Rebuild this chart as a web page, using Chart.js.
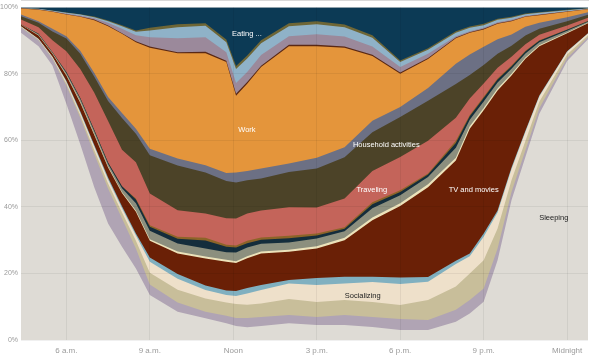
<!DOCTYPE html>
<html><head><meta charset="utf-8">
<script src="https://cdn.jsdelivr.net/npm/chart.js@4"></script>
<style>html,body{margin:0;padding:0;background:#fff}</style>
</head><body>
<canvas id="c" width="589" height="356"></canvas>
<script>
// time of day in hours (24.75 = 12:45 a.m. next day)
const times = [4.37,5,5.5,6,6.5,7,7.5,8,8.5,9,10,11,11.75,12.1,12.5,13,14,15,16,17,18,19,20,20.5,21,21.5,22,22.5,23,24,24.75];

// share of people (%) doing each activity, bottom to top of the stack
const sleeping    = [92.3,88.3,82.5,71.0,58.8,46.0,35.0,28.0,21.5,13.5,8.5,6.5,5.0,4.2,3.8,4.2,5.0,4.5,4.5,3.9,3.0,3.0,5.5,8.0,11.5,24.0,42.0,55.0,68.0,83.8,90.4];
const personalCare= [1.6,1.8,2.0,5.5,8.0,10.0,10.5,8.5,6.0,3.2,2.8,2.0,2.3,2.4,2.8,2.7,2.5,2.4,3.0,3.0,3.3,3.0,3.6,4.0,4.0,3.5,2.5,2.0,1.6,0.9,0.6];
const relaxing    = [0.2,0.2,0.3,0.6,0.8,1.2,1.5,1.8,2.3,3.5,3.8,4.0,4.0,4.2,4.0,4.1,4.8,4.5,4.5,4.5,4.2,6.0,7.0,8.0,8.5,6.0,3.5,2.8,2.0,1.1,0.6];
const socializing = [0.1,0.1,0.2,0.5,0.7,1.0,1.2,1.3,1.6,3.3,3.3,2.5,2.2,2.4,3.4,4.0,4.7,5.1,5.0,6.0,6.3,5.5,6.7,5.2,7.0,4.8,3.3,2.7,1.6,0.8,0.5];
const sports      = [0.1,0.1,0.1,0.3,0.4,0.5,0.6,0.6,0.6,1.3,1.4,1.4,1.4,1.5,1.6,1.5,1.0,2.1,2.0,1.6,2.0,1.4,1.0,0.8,1.0,0.6,0.5,0.4,0.3,0.2,0.1];
const tvMovies    = [0.4,1.0,0.9,1.6,2.6,3.0,3.0,4.0,6.5,5.0,6.2,8.1,8.6,8.4,9.0,9.5,8.5,8.9,11.0,17.0,21.5,27.0,30.1,37.5,37.0,36.1,27.7,21.6,14.8,5.4,3.0];
const reading     = [0.0,0.1,0.1,0.2,0.3,0.3,0.3,0.3,0.4,0.5,0.6,0.6,0.6,0.6,0.6,0.6,0.6,0.7,0.7,0.8,0.8,0.9,0.9,0.7,0.7,0.6,0.5,0.4,0.3,0.2,0.1];
const games       = [0.1,0.3,0.3,0.5,0.8,0.8,0.8,1.1,2.2,2.5,2.4,2.4,2.3,2.6,2.6,2.3,2.2,2.3,2.0,2.8,2.4,2.2,3.0,2.0,2.0,1.8,1.5,1.2,0.9,0.5,0.3];
const computer    = [0.0,0.1,0.1,0.3,0.3,0.4,0.4,0.6,1.1,1.2,1.4,2.4,1.6,1.5,1.3,1.2,1.3,0.9,0.7,1.2,1.0,0.7,1.4,1.0,1.0,0.9,0.7,0.6,0.4,0.3,0.2];
const religious   = [0,0,0,0,0,0,0,0,0.3,0.5,0.6,0.8,0.6,0.6,0.7,0.7,0.7,0.6,0.5,0.6,0.5,0.3,0.7,0.4,0.4,0.3,0.3,0.2,0.2,0.1,0.1];
const traveling   = [1.5,2.0,3.6,6.3,8.7,11.2,12.5,11.0,10.9,9.5,8.0,7.3,8.0,8.1,8.2,8.1,8.6,7.8,8.6,9.4,10.0,9.9,6.9,5.0,4.0,3.2,2.6,2.0,1.6,1.2,0.9];
const household   = [1.0,1.3,2.6,3.8,4.6,4.8,6.0,9.5,8.6,11.5,13.4,12.3,11.2,10.8,10.0,9.6,10.6,11.7,12.4,11.6,12.0,12.0,10.1,7.0,5.5,4.2,3.3,2.6,1.8,1.3,0.9];
const caring      = [0.5,0.5,0.8,0.7,0.9,1.1,1.2,1.5,1.5,2.0,2.1,2.2,2.4,3.0,2.8,3.0,2.5,3.3,3.0,3.5,3.0,3.8,6.1,6.2,5.5,4.4,3.4,2.6,1.8,1.2,0.8];
const work        = [1.8,3.4,5.1,6.5,10.2,15.8,21.3,23.8,26.0,30.3,31.7,33.7,33.3,23.1,26.2,30.5,35.3,33.5,29.9,19.4,10.0,8.7,7.7,6.5,5.2,4.6,4.0,3.0,2.3,1.6,0.9];
const phone       = [0.1,0.1,0.1,0.1,0.1,0.2,0.2,0.2,0.3,0.4,0.3,0.4,0.4,0.6,0.5,0.4,0.4,0.4,0.4,0.4,0.4,0.3,0.2,0.2,0.2,0.2,0.1,0.1,0.1,0.1,0.0];
const education   = [0.0,0.1,0.1,0.2,0.3,0.4,0.8,1.3,1.8,2.8,4.2,4.4,2.6,3.2,3.0,3.2,2.6,3.2,3.0,2.5,1.6,1.3,0.4,0.3,0.3,0.3,0.3,0.2,0.2,0.1,0.1];
const shopping    = [0.0,0.1,0.1,0.2,0.3,0.3,0.5,0.8,1.0,2.0,3.3,3.4,3.0,4.2,4.1,3.6,3.0,3.0,2.8,2.6,1.5,1.2,1.0,1.0,0.8,0.7,0.6,0.5,0.4,0.3,0.1];
const volunteer   = [0.0,0.0,0.1,0.1,0.1,0.2,0.2,0.3,0.4,0.8,0.9,0.8,0.8,0.9,0.9,0.9,0.9,0.9,0.8,0.8,0.5,0.5,0.5,0.4,0.4,0.3,0.3,0.2,0.2,0.1,0.1];
const eating      = [0.3,0.5,1.0,1.6,2.1,2.8,4.0,5.4,7.0,6.2,5.1,4.8,9.7,17.7,14.5,9.9,4.8,4.2,5.2,8.4,16.0,12.3,7.2,5.8,5.0,3.5,2.9,1.9,1.5,0.8,0.3];

const seriesNames = ['Sleeping','Personal care','Relaxing','Socializing','Sports','TV and movies','Reading','Games','Computer','Religious','Traveling','Household activities','Caring','Work','Phone','Education','Shopping','Volunteering','Eating and drinking'];
const seriesData  = [sleeping,personalCare,relaxing,socializing,sports,tvMovies,reading,games,computer,religious,traveling,household,caring,work,phone,education,shopping,volunteer,eating];
const seriesColors= ['#dedbd5','#b0a4b4','#c8be9a','#eee0ca','#80b0c0','#6a2006','#ece2ba','#8c8f7e','#142d3c','#8c6428','#c4645a','#4c4328','#6c7084','#e4953b','#5a2814','#9b899b','#8fb2c8','#6e6636','#0c3a55'];

const xTicks = [6,9,12,15,18,21,24];
const xTickLabels = ['6 a.m.','9 a.m.','Noon','3 p.m.','6 p.m.','9 p.m.','Midnight'];

const annotations = [
  {text:'Eating ...', t:12.49, p:91.9, color:'#ffffff'},
  {text:'Work', t:12.49, p:63.2, color:'#ffffff'},
  {text:'Household activities', t:17.5, p:58.7, color:'#ffffff'},
  {text:'Traveling', t:16.98, p:45.2, color:'#ffffff'},
  {text:'TV and movies', t:20.64, p:45.2, color:'#ffffff'},
  {text:'Sleeping', t:23.52, p:36.8, color:'#222222'},
  {text:'Socializing', t:16.65, p:13.2, color:'#222222'}
];

const datasets = seriesData.map((arr,i)=>({
  label: seriesNames[i],
  data: arr.map((v,j)=>({x:times[j], y:v})),
  backgroundColor: seriesColors[i],
  borderColor: seriesColors[i],
  borderWidth: 0,
  pointRadius: 0,
  tension: 0,
  fill: 'origin'
}));

const labelPlugin = {
  id:'areaLabels',
  afterDraw(chart){
    const {ctx, scales:{x,y}} = chart;
    ctx.save();
    ctx.font = '7.5px "Liberation Sans", Arial, sans-serif';
    ctx.textAlign = 'center';
    ctx.textBaseline = 'middle';
    annotations.forEach(a=>{
      ctx.fillStyle = a.color;
      ctx.fillText(a.text, x.getPixelForValue(a.t), y.getPixelForValue(a.p));
    });
    ctx.restore();
  }
};

new Chart(document.getElementById('c'), {
  type:'line',
  data:{datasets},
  plugins:[labelPlugin],
  options:{
    responsive:false,
    animation:false,
    events:[],
    layout:{padding:{top:6,right:1,left:0,bottom:0}},
    plugins:{legend:{display:false}, tooltip:{enabled:false}},
    scales:{
      x:{
        type:'linear', min:4.37, max:24.75,
        afterBuildTicks(axis){ axis.ticks = xTicks.map(v=>({value:v})); },
        afterFit(axis){ axis.height = 16; },
        ticks:{autoSkip:false, maxRotation:0, padding:6, color:'#9a9a9a',
          font:{family:'"Liberation Sans", Arial, sans-serif', size:8},
          callback:(v)=>{ const i = xTicks.indexOf(v); return i>=0 ? xTickLabels[i] : ''; }},
        grid:{color:'rgba(0,0,0,0.06)', drawTicks:false, z:1},
        border:{display:true, color:'#b3b3b3', width:1}
      },
      y:{
        stacked:true, min:0, max:100,
        afterFit(axis){ axis.width = 21; },
        ticks:{stepSize:20, padding:3, color:'#9a9a9a',
          font:{family:'"Liberation Sans", Arial, sans-serif', size:7},
          callback:(v)=>v+'%'},
        grid:{color:'rgba(0,0,0,0.06)', drawTicks:false, z:1},
        border:{display:false}
      }
    }
  }
});
</script>
</body></html>
